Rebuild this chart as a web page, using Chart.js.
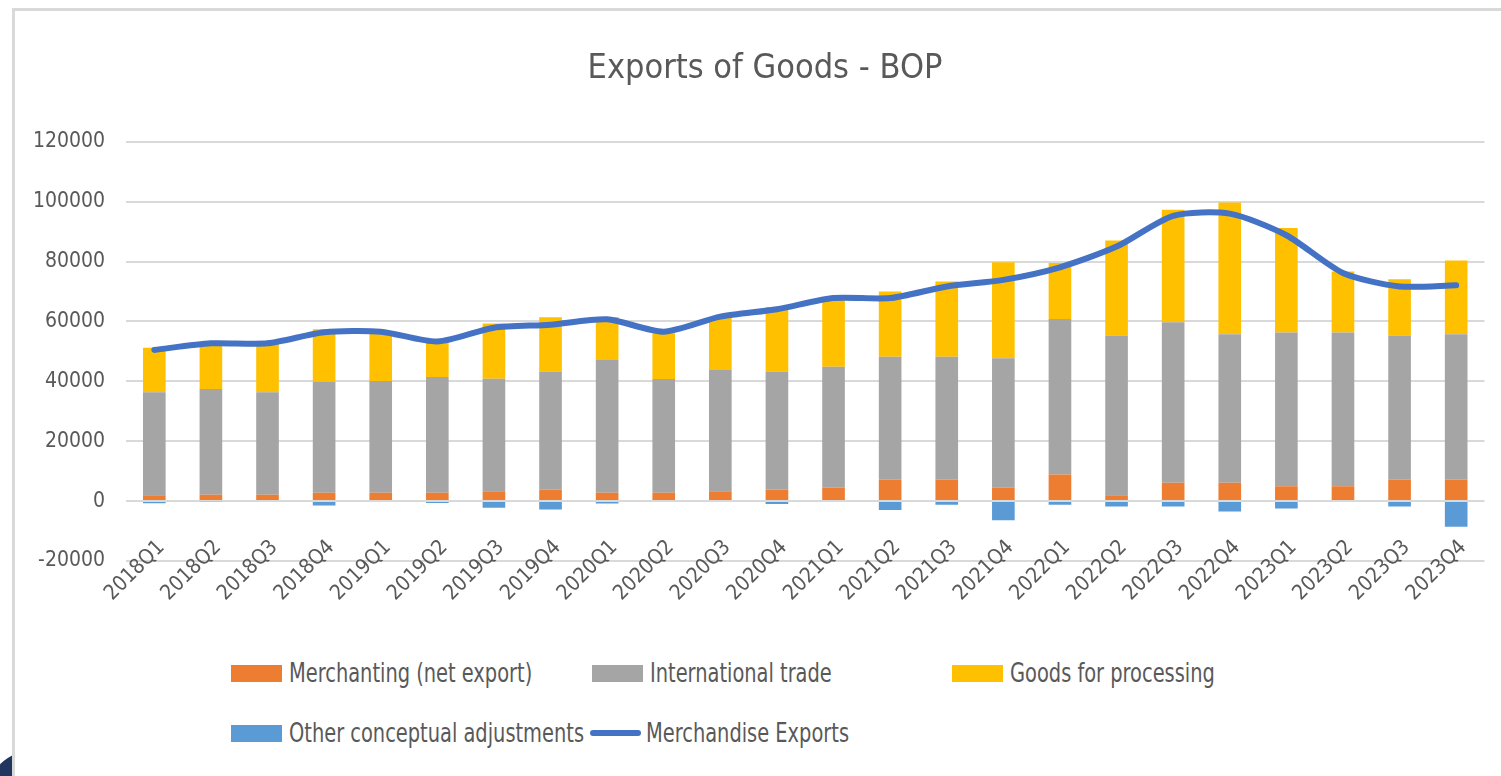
<!DOCTYPE html>
<html>
<head>
<meta charset="utf-8">
<title>Exports of Goods - BOP</title>
<script src="https://cdn.jsdelivr.net/npm/chart.js@4.4.1/dist/chart.umd.min.js"></script>
<style>
  html, body { margin: 0; padding: 0; background: #fff; width: 1501px; height: 776px; overflow: hidden; }
  .corner { position: absolute; left: -15px; top: 750px; width: 100px; height: 100px; border-radius: 50%; background: #22355e; }
  #frame { position: absolute; left: 12px; top: 8px; width: 1489px; height: 768px; background: #fff;
           border-left: 3px solid #d9d9d9; border-top: 3px solid #d9d9d9; box-sizing: border-box; }
  #chart { position: absolute; left: 0; top: 0; }
  .item { position: absolute; height: 30px; display: flex; align-items: center; white-space: nowrap;
          font: 26px 'DejaVu Sans Condensed', 'DejaVu Sans', sans-serif; color: #595959; }
  .item span.txt { display: inline-block; transform: scaleX(0.83); transform-origin: 0 50%; }
  .swatch { width: 51px; height: 17px; margin-right: 7px; }
  .swatch.line { height: 6px; border-radius: 3px; margin-right: 5px; }
</style>
</head>
<body>
<div class="corner"></div>
<div id="frame">
  <canvas id="chart" width="1493" height="640"></canvas>
</div>
<div id="legend"></div>
<script>
const FONT = "'DejaVu Sans Condensed', 'DejaVu Sans', sans-serif";
const TEXT = '#595959';

const quarters = ['2018Q1', '2018Q2', '2018Q3', '2018Q4', '2019Q1', '2019Q2', '2019Q3', '2019Q4',
                  '2020Q1', '2020Q2', '2020Q3', '2020Q4', '2021Q1', '2021Q2', '2021Q3', '2021Q4',
                  '2022Q1', '2022Q2', '2022Q3', '2022Q4', '2023Q1', '2023Q2', '2023Q3', '2023Q4'];

// stacked bar parts
const merchanting = [2000, 2100, 2100, 2800, 2800, 2800, 3300, 3900,
                     2800, 2800, 3300, 3900, 4450, 7250, 7250, 4450,
                     8900, 2000, 6100, 6100, 5000, 5000, 7250, 7250];
const intlTrade = [34350, 35350, 34250, 37100, 37300, 38650, 37550, 39350,
                   44350, 38000, 40500, 39350, 40450, 41000, 41000, 43250,
                   51950, 53300, 53650, 49650, 51300, 51300, 48050, 48500];
const goodsProcessing = [14900, 15350, 16350, 17500, 16700, 12350, 18450, 18150,
                         14350, 15300, 17700, 21550, 22600, 21750, 25100, 32100,
                         18650, 31750, 37550, 44000, 34900, 20400, 18800, 24600];
const otherAdjustments = [-700, -200, 0, -1500, 0, -600, -2200, -2800,
                          -800, 0, 0, -1000, 0, -3000, -1200, -6350,
                          -1200, -1800, -1800, -3500, -2500, 0, -1800, -8600];

// total line
const merchandiseExports = [50500, 52700, 52700, 56400, 56600, 53300, 57900, 58900,
                            60700, 56600, 61600, 64100, 67800, 67800, 71700, 73900,
                            78100, 85000, 95300, 96000, 88800, 76200, 71700, 72100];

const yMin = -20000, yMax = 120000, yStep = 20000;

const ctx = document.getElementById('chart').getContext('2d');
const chart = new Chart(ctx, {
  type: 'bar',
  data: {
    labels: quarters,
    datasets: [
      { label: 'Merchanting (net export)', data: merchanting, backgroundColor: '#ED7D31', stack: 'bop', order: 1 },
      { label: 'International trade', data: intlTrade, backgroundColor: '#A5A5A5', stack: 'bop', order: 1 },
      { label: 'Goods for processing', data: goodsProcessing, backgroundColor: '#FFC000', stack: 'bop', order: 1 },
      { label: 'Other conceptual adjustments', data: otherAdjustments, backgroundColor: '#5B9BD5', stack: 'bop', order: 1 },
      {
        type: 'line',
        label: 'Merchandise Exports',
        data: merchandiseExports,
        borderColor: '#4472C4',
        backgroundColor: '#4472C4',
        borderWidth: 6,
        borderCapStyle: 'round',
        borderJoinStyle: 'round',
        pointRadius: 0,
        tension: 0.25,
        stack: 'total',
        order: 0
      }
    ]
  },
  options: {
    responsive: false,
    animation: false,
    layout: { padding: { left: 7, right: 0, top: 0, bottom: 90 } },
    datasets: {
      bar: { categoryPercentage: 1, barPercentage: 0.4, borderWidth: 0 }
    },
    plugins: {
      legend: { display: false }, // legend is laid out below in html
      tooltip: { enabled: false },
      title: {
        display: true,
        text: 'Exports of Goods - BOP',
        color: TEXT,
        font: { family: FONT, size: 34, weight: 'normal' },
        padding: { top: 38, bottom: 52 }
      }
    },
    scales: {
      x: {
        stacked: true,
        position: { y: 0 }, // labels hang below the zero line like excel
        grid: { display: false, drawTicks: false },
        border: { display: false },
        ticks: {
          color: TEXT,
          font: { family: FONT, size: 21 },
          minRotation: 45,
          maxRotation: 45,
          autoSkip: false,
          padding: 34,
          labelOffset: 7
        }
      },
      y: {
        stacked: true,
        min: yMin,
        max: yMax,
        ticks: {
          stepSize: yStep,
          color: TEXT,
          font: { family: FONT, size: 21 },
          padding: 21,
          callback: (v) => String(v)
        },
        grid: { color: '#d9d9d9', lineWidth: 2, drawTicks: false },
        border: { display: false },
        afterFit: (scale) => { scale.width = 104; }
      }
    }
  }
});

// html legend in excel's column layout
const slots = [[231, 673], [592, 673], [952, 673], [231, 733], [590, 733]];
const legend = document.getElementById('legend');
chart.data.datasets.forEach((ds, i) => {
  const item = document.createElement('div');
  item.className = 'item';
  item.style.left = slots[i][0] + 'px';
  item.style.top = (slots[i][1] - 15) + 'px';
  const sw = document.createElement('span');
  sw.className = 'swatch' + (ds.type === 'line' ? ' line' : '');
  sw.style.background = ds.type === 'line' ? ds.borderColor : ds.backgroundColor;
  const txt = document.createElement('span');
  txt.className = 'txt';
  txt.textContent = ds.label;
  item.appendChild(sw);
  item.appendChild(txt);
  legend.appendChild(item);
});
</script>
</body>
</html>
